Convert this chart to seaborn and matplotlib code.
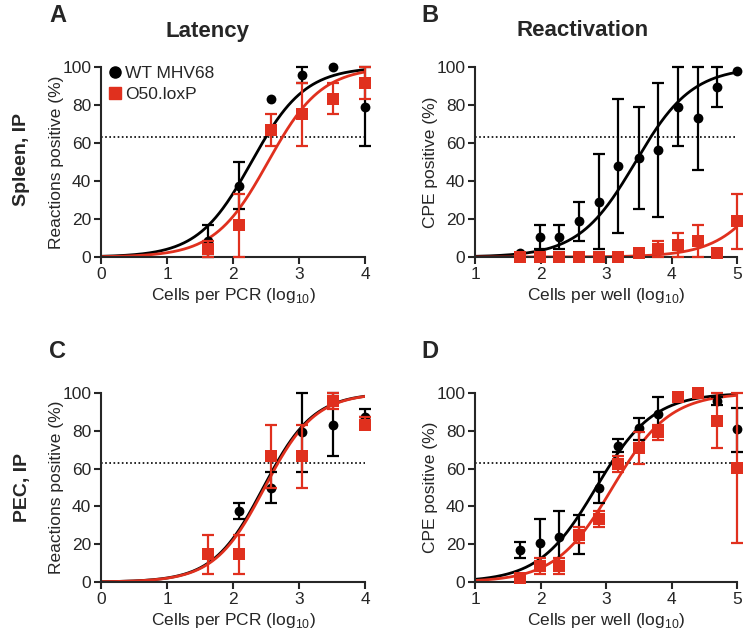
import numpy as np
import seaborn as sns
import matplotlib.pyplot as plt
from matplotlib.lines import Line2D

nan = np.nan

# panel A/C dilution steps (log10 cells per PCR), panel B/D (log10 cells per well)
pcr_x = [1.62, 2.09, 2.57, 3.05, 3.52, 4.00]
well_x = [1.69, 1.99, 2.29, 2.59, 2.89, 3.19, 3.50, 3.80, 4.10, 4.40, 4.70, 5.00]

# A: Spleen latency
a_wt = [8.3, 37.5, 83.3, 95.8, 100, 79.2]
a_wt_lo = [0, 25, 83.3, 91.7, 100, 58.3]
a_wt_hi = [16.7, 50, 83.3, 100, 100, 100]
a_ko = [4.2, 16.7, 66.7, 75, 83.3, 91.7]
a_ko_lo = [0, 0, 58.3, 58.3, 75, 83.3]
a_ko_hi = [8.3, 33.3, 75, 91.7, 91.7, 100]

# B: Spleen reactivation
b_wt = [2.1, 10.4, 10.4, 18.8, 29.2, 47.9, 52.1, 56.3, 79.2, 72.9, 89.6, 97.9]
b_wt_lo = [2.1, 4.2, 4.2, 8.3, 4.2, 12.5, 25, 20.8, 58.3, 45.8, 79.2, 97.9]
b_wt_hi = [2.1, 16.7, 16.7, 29.2, 54.2, 83.3, 79.2, 91.7, 100, 100, 100, 97.9]
b_ko = [0, 0, 0, 0, 0, 0, 2.1, 4.2, 6.3, 8.3, 2.1, 18.8]
b_ko_lo = [0, 0, 0, 0, 0, 0, 0, 0, 0, 0, 2.1, 4.2]
b_ko_hi = [0, 0, 0, 0, 0, 0, 4.2, 8.3, 12.5, 16.7, 2.1, 33.3]

# C: PEC latency
c_wt = [nan, 37.5, 50, 79.2, 83.3, 87.5]
c_wt_lo = [nan, 33.3, 41.7, 58.3, 66.7, 87.5]
c_wt_hi = [nan, 41.7, 58.3, 100, 100, 91.7]
c_ko = [14.6, 14.6, 66.7, 66.7, 95.8, 83.3]
c_ko_lo = [4.2, 4.2, 50, 50, 91.7, 83.3]
c_ko_hi = [25, 25, 83.3, 83.3, 100, 87.5]

# D: PEC reactivation
d_wt = [16.7, 20.8, 23.6, 25, 50, 72.2, 81.3, 88.9, 98, 100, 95.8, 81]
d_wt_lo = [12.5, 8, 10, 14.6, 41.7, 68.8, 75, 80, 98, 100, 93.8, 69]
d_wt_hi = [21, 33.3, 37.5, 35.4, 58.3, 75.7, 87, 97.9, 98, 100, 97.9, 92]
d_ko = [2.1, 8.3, 8.3, 25, 33.3, 62.5, 70.8, 79.2, 97.9, 100, 85.4, 60.4]
d_ko_lo = [2.1, 4.2, 4.2, 20.8, 29.2, 58.3, 62.5, 75, 97.9, 100, 70.8, 20.8]
d_ko_hi = [2.1, 12.5, 12.5, 29.2, 37.5, 66.7, 79.2, 83.3, 97.9, 100, 100, 100]

# sigmoid fit parameters (logEC50, hill slope)
fits = {
    "A": [(2.28, 1.07), (2.53, 1.07)],
    "B": [(3.45, 1.0), (5.72, 1.0)],
    "C": [(2.46, 1.14), (2.48, 1.14)],
    "D": [(2.85, 1.0), (3.10, 1.0)],
}

BLACK = "black"
RED = "#E0301E"

sns.set_style("ticks")
plt.rcParams["font.family"] = ["Liberation Sans", "DejaVu Sans"]
plt.rcParams["mathtext.fontset"] = "custom"
plt.rcParams["mathtext.rm"] = "Liberation Sans"

W, H = 745, 632
fig = plt.figure(figsize=(W / 100, H / 100), dpi=100)


def px_ax(l, r, t, b):
    return fig.add_axes([l / W, 1 - b / H, (r - l) / W, (b - t) / H])


def draw(ax, key, xs, series, xlim, xlabel, ylabel):
    for (x50, h), col in zip(fits[key], [BLACK, RED]):
        grid = np.linspace(xlim[0], xlim[1], 300)
        sns.lineplot(x=grid, y=100 / (1 + 10 ** ((x50 - grid) * h)), ax=ax, color=col, lw=2.0, zorder=2)
    for (y, lo, hi), col, mk, ms, z in zip(series, [BLACK, RED], ["o", "s"], [50, 85], [3, 4]):
        y = np.array(y, float)
        lo = np.array(lo, float)
        hi = np.array(hi, float)
        has_err = hi > lo
        xe = np.array(xs)[has_err]
        ye = y[has_err]
        err = [ye - lo[has_err], hi[has_err] - ye]
        ax.errorbar(xe, ye, yerr=err, fmt="none", ecolor=col, elinewidth=1.6,
                    capsize=4.5, capthick=1.6, clip_on=False, zorder=z)
        sns.scatterplot(x=xs, y=y, ax=ax, color=col, marker=mk, s=ms, linewidth=0,
                        clip_on=False, zorder=z + 0.5)
    ax.axhline(63.2, color="black", ls=(0, (1, 1.5)), lw=1.2, zorder=1)
    ax.set_xlim(*xlim)
    ax.set_ylim(0, 100)
    ax.set_xticks(range(int(xlim[0]), int(xlim[1]) + 1))
    ax.set_yticks([0, 20, 40, 60, 80, 100])
    ax.set_xlabel(xlabel, fontsize=12.5, labelpad=3)
    ax.set_ylabel(ylabel, fontsize=12.5, labelpad=-1)
    ax.tick_params(labelsize=12.5, width=1.5, length=5, pad=2)
    for s in ["left", "bottom"]:
        ax.spines[s].set_linewidth(1.5)
    sns.despine(ax=ax)


pcr_lab = "Cells per PCR (log$_{10}$)"
well_lab = "Cells per well (log$_{10}$)"

axA = px_ax(101, 365, 67, 257)
draw(axA, "A", pcr_x, [(a_wt, a_wt_lo, a_wt_hi), (a_ko, a_ko_lo, a_ko_hi)], (0, 4),
     pcr_lab, "Reactions positive (%)")
axB = px_ax(475, 737, 67, 257)
draw(axB, "B", well_x, [(b_wt, b_wt_lo, b_wt_hi), (b_ko, b_ko_lo, b_ko_hi)], (1, 5),
     well_lab, "CPE positive (%)")
axC = px_ax(101, 365, 393, 582)
draw(axC, "C", pcr_x, [(c_wt, c_wt_lo, c_wt_hi), (c_ko, c_ko_lo, c_ko_hi)], (0, 4),
     pcr_lab, "Reactions positive (%)")
axD = px_ax(475, 737, 393, 582)
draw(axD, "D", well_x, [(d_wt, d_wt_lo, d_wt_hi), (d_ko, d_ko_lo, d_ko_hi)], (1, 5),
     well_lab, "CPE positive (%)")

handles = [Line2D([], [], ls="none", marker="o", color=BLACK, ms=8),
           Line2D([], [], ls="none", marker="s", color=RED, ms=9)]
axA.legend(handles, ["WT MHV68", "O50.loxP"], loc="upper left", frameon=False,
           fontsize=12.5, handletextpad=0.1, borderaxespad=0, borderpad=0,
           handlelength=1.0, labelspacing=0.35, bbox_to_anchor=(0.02, 1.005))

for txt, x, y in [("A", 58, 15), ("B", 430, 15), ("C", 58, 352), ("D", 430, 352)]:
    fig.text(x / W, 1 - y / H, txt, fontsize=17, fontweight="bold", ha="center", va="center")
fig.text(208 / W, 1 - 31 / H, "Latency", fontsize=16, fontweight="bold", ha="center", va="center")
fig.text(583 / W, 1 - 31 / H, "Reactivation", fontsize=16, fontweight="bold", ha="center", va="center")
fig.text(22 / W, 1 - 160 / H, "Spleen, IP", fontsize=14, fontweight="bold", rotation=90,
         ha="center", va="center")
fig.text(22 / W, 1 - 487 / H, "PEC, IP", fontsize=14, fontweight="bold", rotation=90,
         ha="center", va="center")

fig.savefig("out.png", dpi=100)
